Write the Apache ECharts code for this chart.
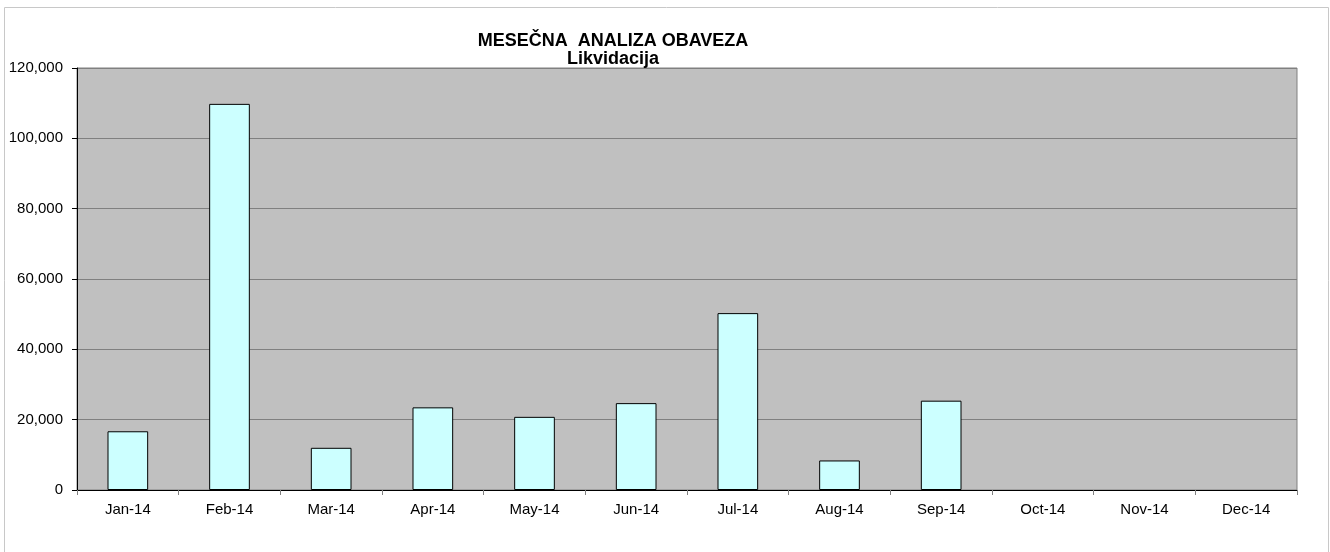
<!DOCTYPE html>
<html>
<head>
<meta charset="utf-8">
<script src="https://cdn.jsdelivr.net/npm/echarts@6/dist/echarts.min.js"></script>
<style>
  html, body { margin: 0; padding: 0; background: #fff; }
  #main { width: 1330px; height: 552px; }
</style>
</head>
<body>
<div id="main"></div>
<script>
var months = ["Jan-14", "Feb-14", "Mar-14", "Apr-14", "May-14", "Jun-14",
  "Jul-14", "Aug-14", "Sep-14", "Oct-14", "Nov-14", "Dec-14"];
var likvidacija = [16700, 109800, 12000, 23500, 20800, 24700,
  50300, 8400, 25400, 0, 0, 0];
var yTicks = [0, 20000, 40000, 60000, 80000, 100000, 120000];

var chartDom = document.getElementById("main");
var myChart = echarts.init(chartDom);
var font = "Liberation Sans";

// nule se ne crtaju (bez okvira)
var barData = likvidacija.map(function (v) {
  return v === 0 ? { value: v, itemStyle: { borderWidth: 0 } } : v;
});

var option = {
  animation: false,
  title: [
    {
      text: "MESEČNA  ANALIZA OBAVEZA",
      left: 608,
      top: 27,
      textAlign: "center",
      textStyle: { fontFamily: font, fontSize: 18, fontWeight: "bold", color: "#000" }
    },
    {
      text: "Likvidacija",
      left: 608,
      top: 45,
      textAlign: "center",
      textStyle: { fontFamily: font, fontSize: 18, fontWeight: "bold", color: "#000" }
    }
  ],
  graphic: [
    {
      type: "rect",
      shape: { x: 4.5, y: 7.5, width: 1324, height: 560 },
      style: { fill: "none", stroke: "#c8c8c8", lineWidth: 1 },
      silent: true
    }
  ],
  grid: {
    left: 77,
    right: 33,
    top: 68,
    bottom: 62,
    show: true,
    backgroundColor: "#c0c0c0",
    borderColor: "#808080",
    borderWidth: 1
  },
  xAxis: {
    type: "category",
    data: months,
    axisLine: { lineStyle: { color: "#000", width: 1 } },
    axisTick: { show: true, length: 5, lineStyle: { color: "#808080" } },
    axisLabel: { fontFamily: font, fontSize: 15, color: "#000", margin: 12 }
  },
  yAxis: {
    type: "value",
    min: 0,
    max: yTicks[yTicks.length - 1],
    interval: 20000,
    axisLine: { show: true, lineStyle: { color: "#000", width: 1 } },
    axisTick: { show: true, length: 5, lineStyle: { color: "#000" } },
    splitLine: { lineStyle: { color: "#808080", width: 1 } },
    axisLabel: {
      fontFamily: font, fontSize: 15, color: "#000", margin: 14,
      formatter: function (v) { return v.toLocaleString("en-US"); }
    }
  },
  series: [
    {
      type: "bar",
      data: barData,
      barWidth: "40%",
      itemStyle: { color: "#ccffff", borderColor: "#000", borderWidth: 1 }
    }
  ]
};

myChart.setOption(option);
</script>
</body>
</html>
